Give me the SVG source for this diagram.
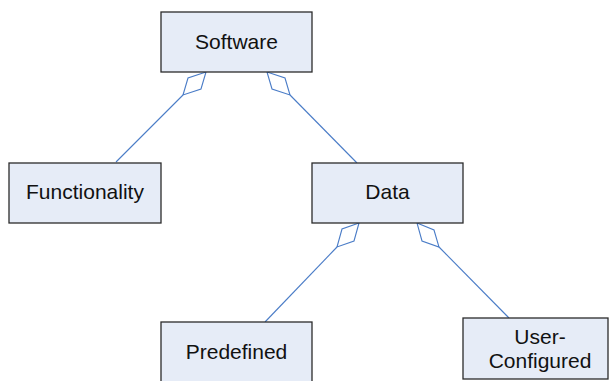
<svg xmlns="http://www.w3.org/2000/svg" width="609" height="381" viewBox="0 0 609 381">
  <style>
    .box { fill: #e6ecf7; stroke: #2b2b2b; stroke-width: 1.3; }
    .lbl { font-family: "Liberation Sans", Arial, sans-serif; font-size: 21px; fill: #111; text-anchor: middle; }
    .link { fill: none; stroke: #4a7cc7; stroke-width: 1.1; }
    .agg { fill: #ffffff; stroke: #4a7cc7; stroke-width: 1.1; stroke-linejoin: miter; }
  </style>
  <rect width="609" height="381" fill="#ffffff"/>

  <g id="connectors">
    <!-- Software -> Functionality -->
    <line class="link" x1="183" y1="95" x2="116" y2="162"/>
    <polygon class="agg" points="206,72 188,78 183,95 201,89"/>
    <!-- Software -> Data -->
    <line class="link" x1="290" y1="95" x2="357" y2="163"/>
    <polygon class="agg" points="267,72 285,78 290,95 272,89"/>
    <!-- Data -> Predefined -->
    <line class="link" x1="337" y1="247" x2="265" y2="322"/>
    <polygon class="agg" points="359,223 342,229 337,247 354,241"/>
    <!-- Data -> User-Configured -->
    <line class="link" x1="439" y1="247" x2="509" y2="318"/>
    <polygon class="agg" points="417,223 434,230 439,247 422,241"/>
  </g>

  <g id="software">
    <rect class="box" x="161" y="12" width="151" height="60"/>
    <text class="lbl" x="236.5" y="49">Software</text>
  </g>

  <g id="functionality">
    <rect class="box" x="9" y="163" width="152" height="60"/>
    <text class="lbl" x="85" y="199">Functionality</text>
  </g>

  <g id="data">
    <rect class="box" x="312" y="163" width="151" height="60"/>
    <text class="lbl" x="387.5" y="199">Data</text>
  </g>

  <g id="predefined">
    <rect class="box" x="161" y="322" width="151" height="62"/>
    <text class="lbl" x="236.5" y="359">Predefined</text>
  </g>

  <g id="user-configured">
    <rect class="box" x="463" y="318" width="145" height="61"/>
    <text class="lbl" x="540" y="344">User-</text>
    <text class="lbl" x="540" y="368">Configured</text>
  </g>
</svg>
